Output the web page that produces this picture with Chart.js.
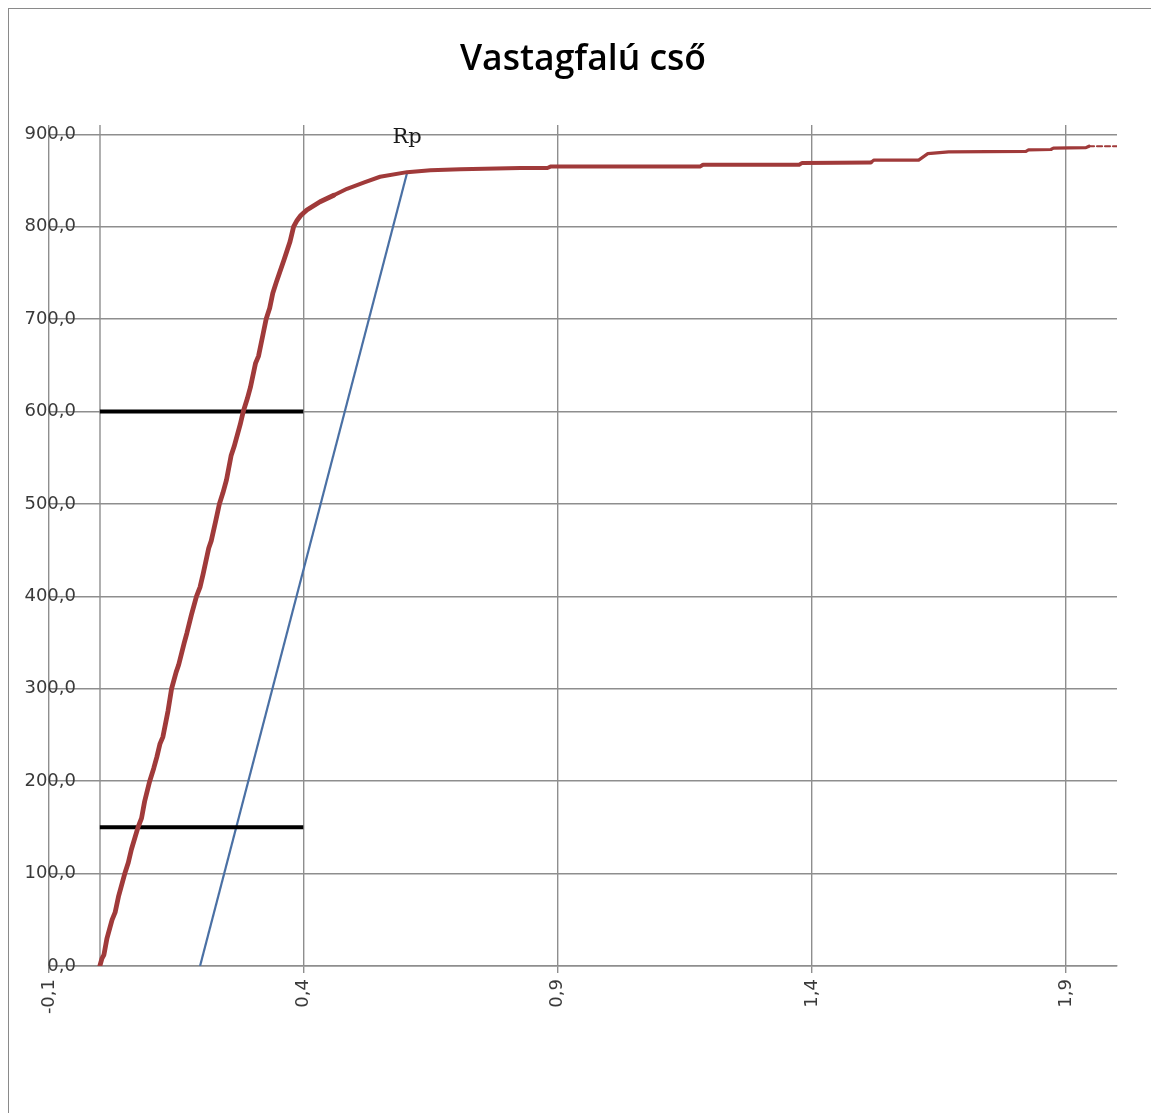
<!DOCTYPE html>
<html>
<head>
<meta charset="utf-8">
<title>Vastagfalú cső</title>
<script src="https://cdn.jsdelivr.net/npm/chart.js@4.4.1/dist/chart.umd.min.js"></script>
<style>
  html, body { margin: 0; padding: 0; background: #ffffff; }
  #wrap { width: 1151px; height: 1113px; }
</style>
</head>
<body>
<div id="wrap"><canvas id="c" width="1151" height="1113"></canvas></div>
<script>
// Measured tensile curve (strain %, stress MPa)
const curveX = [0.000, 0.004, 0.008, 0.014, 0.024, 0.030, 0.037, 0.049, 0.056, 0.062, 0.075, 0.082, 0.088, 0.098, 0.106, 0.112, 0.118, 0.124, 0.134, 0.141, 0.150, 0.155, 0.166, 0.171, 0.180, 0.190, 0.197, 0.203, 0.214, 0.219, 0.228, 0.235, 0.242, 0.249, 0.258, 0.264, 0.276, 0.282, 0.290, 0.296, 0.306, 0.312, 0.321, 0.327, 0.334, 0.340, 0.347, 0.352, 0.362, 0.368, 0.374, 0.381, 0.388, 0.395, 0.407, 0.433, 0.460, 0.486, 0.520, 0.551, 0.604, 0.650, 0.709, 0.827, 0.880, 0.886, 1.180, 1.186, 1.375, 1.381, 1.516, 1.522, 1.610, 1.628, 1.669, 1.821, 1.826, 1.870, 1.875, 1.939, 1.945, 2.000];
const curveY = [0, 8, 12, 30, 50, 58, 76, 100, 112, 126, 150, 160, 178, 200, 214, 226, 240, 248, 276, 300, 318, 326, 350, 360, 380, 400, 410, 424, 452, 460, 482, 500, 512, 526, 552, 562, 586, 600, 614, 626, 652, 660, 684, 700, 712, 728, 740, 748, 764, 774, 784, 800, 807, 812, 818, 827, 834, 841, 848, 854, 859, 861, 862, 863.5, 863.5, 865, 865, 867, 867, 869, 869.5, 872, 872, 879, 881, 881.5, 883, 883.5, 885, 885.5, 887, 887];

// Offset (parallel) line ending at the proof stress point
const offsetX = [0.197, 0.604];
const offsetY = [0, 858];
const offsetLabel = 'Rp';

// Horizontal reference levels drawn from 0 to 0.4
const refLevels = [600, 150];
const refSpan = [0, 0.4];

// Axis ticks
const xTickValues = [-0.1, 0.4, 0.9, 1.4, 1.9];
const yTickValues = [0, 100, 200, 300, 400, 500, 600, 700, 800, 900];
const yAxisCross = 0;        // value axis crosses the strain axis at 0
const yLabelAnchor = -0.047; // right edge of the stress labels

const chartTitle = 'Vastagfalú cső';

const fmt = v => Number(v).toFixed(1).replace('.', ',');
const toPoints = (xs, ys) => xs.map((x, i) => ({ x: x, y: ys[i] }));

const GRID = '#8e8e8e';
const RED = '#a03a3a';
const BLUE = '#4a70a4';

const frameAndBackground = {
  id: 'frameAndBackground',
  beforeDraw(chart) {
    const ctx = chart.ctx;
    ctx.save();
    ctx.fillStyle = '#ffffff';
    ctx.fillRect(0, 0, chart.width, chart.height);
    ctx.strokeStyle = '#8a8a8a';
    ctx.lineWidth = 1;
    ctx.strokeRect(8.5, 8.5, chart.width + 20, chart.height + 20);
    ctx.restore();
  }
};

// vertical value axis line at strain = 0
const valueAxisLine = {
  id: 'valueAxisLine',
  beforeDatasetsDraw(chart) {
    const xs = chart.scales.x;
    const area = chart.chartArea;
    const px = Math.round(xs.getPixelForValue(yAxisCross));
    const ctx = chart.ctx;
    ctx.save();
    ctx.strokeStyle = GRID;
    ctx.lineWidth = 1.4;
    ctx.beginPath();
    ctx.moveTo(px, area.top);
    ctx.lineTo(px, area.bottom);
    ctx.stroke();
    ctx.restore();
  }
};

const endLabel = {
  id: 'endLabel',
  afterDatasetsDraw(chart) {
    const meta = chart.getDatasetMeta(0);
    const pts = meta.data;
    const last = pts[pts.length - 1];
    const ctx = chart.ctx;
    ctx.save();
    ctx.font = '21px "DejaVu Serif", serif';
    ctx.fillStyle = '#1a1a1a';
    ctx.textAlign = 'center';
    ctx.textBaseline = 'alphabetic';
    ctx.fillText(offsetLabel, last.x, last.y - 30);
    ctx.restore();
  }
};

const datasets = [
  {
    label: offsetLabel,
    data: toPoints(offsetX, offsetY),
    borderColor: BLUE,
    borderWidth: 2.2,
    pointRadius: 0,
    order: 3
  }
];
refLevels.forEach((lvl, i) => {
  datasets.push({
    label: 'ref' + i,
    data: refSpan.map(x => ({ x: x, y: lvl })),
    borderColor: '#000000',
    borderWidth: 4,
    pointRadius: 0,
    order: 2
  });
});
datasets.push({
  label: 'σ–ε',
  data: toPoints(curveX, curveY),
  borderColor: RED,
  borderWidth: 4.5,
  pointRadius: 0,
  borderJoinStyle: 'round',
  borderCapStyle: 'round',
  order: 1,
  segment: {
    borderWidth: ctx => {
      const x = ctx.p0.parsed.x;
      if (x >= 1.945) return 2.2;
      if (x >= 1.45) return 3.2;
      if (x >= 0.45) return 4;
      return 4.8;
    },
    borderDash: ctx => (ctx.p0.parsed.x >= 1.945 ? [5, 3] : undefined)
  }
});

new Chart(document.getElementById('c'), {
  type: 'line',
  data: { datasets: datasets },
  plugins: [frameAndBackground, valueAxisLine, endLabel],
  options: {
    responsive: false,
    animation: false,
    layout: { padding: { left: 49, right: 34, top: 0, bottom: 87 } },
    plugins: {
      legend: { display: false },
      tooltip: { enabled: false },
      title: {
        display: true,
        text: chartTitle,
        color: '#000000',
        font: { family: 'Open Sans', size: 35.5, weight: '600' },
        padding: { top: 38.7, bottom: 43.7 }
      }
    },
    scales: {
      x: {
        type: 'linear',
        min: -0.1,
        max: 2.0,
        afterBuildTicks: s => { s.ticks = xTickValues.map(v => ({ value: v })); },
        afterFit: s => { s.height = 60; },
        grid: { color: GRID, lineWidth: 1.4, tickLength: 7, tickColor: GRID },
        border: { color: GRID, width: 1.4 },
        ticks: {
          autoSkip: false,
          minRotation: 90,
          maxRotation: 90,
          padding: 6,
          color: '#3a3a3a',
          font: { family: 'DejaVu Sans', size: 18 },
          callback: v => fmt(v)
        }
      },
      y: {
        type: 'linear',
        min: 0,
        max: 910,
        position: { x: yLabelAnchor },
        afterBuildTicks: s => { s.ticks = yTickValues.map(v => ({ value: v })); },
        grid: { color: GRID, lineWidth: 1.4, drawTicks: false },
        border: { display: false },
        ticks: {
          padding: 0,
          color: '#3a3a3a',
          font: { family: 'DejaVu Sans', size: 18 },
          callback: v => fmt(v)
        }
      }
    }
  }
});
</script>
</body>
</html>
